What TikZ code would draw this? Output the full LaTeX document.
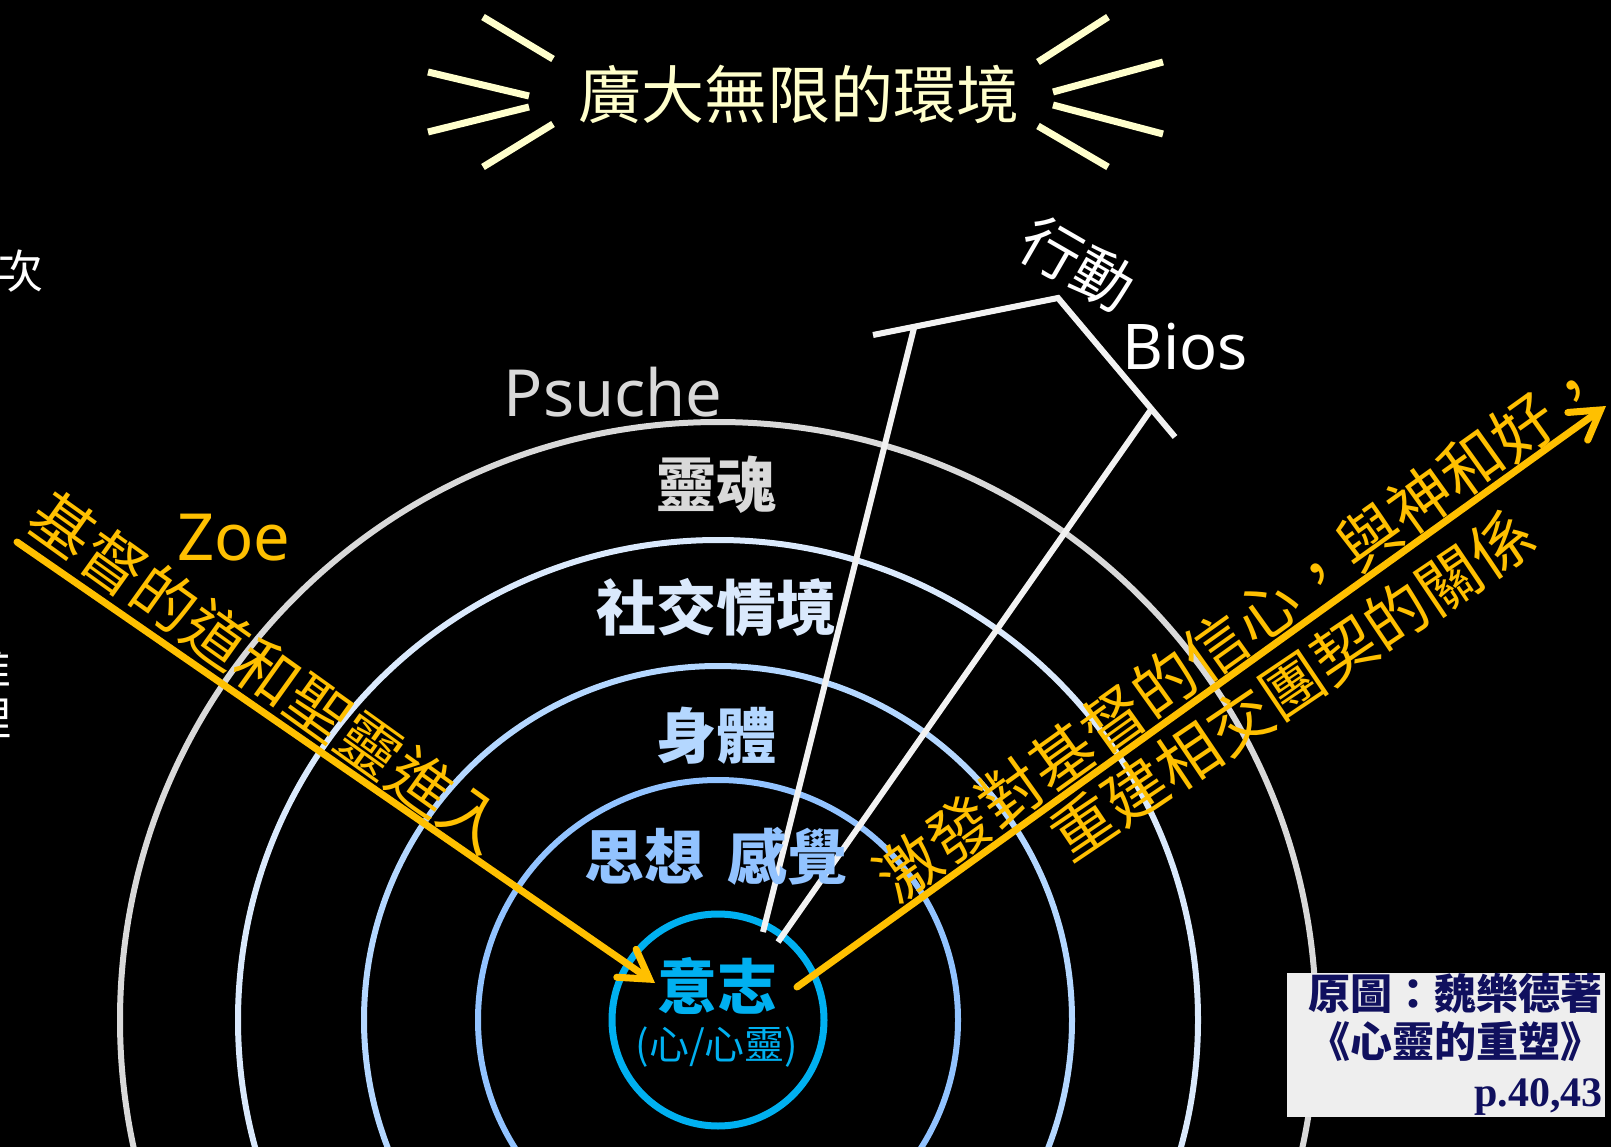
\documentclass[tikz,border=0pt]{standalone}
\usepackage{fontspec}
\setmainfont{Noto Sans}
\newfontfamily\cjk{Noto Sans CJK TC}
\newfontfamily\lat{Noto Sans}
\newfontfamily\serifb{Liberation Serif}
\usetikzlibrary{arrows.meta}
\definecolor{ringA}{HTML}{00B0F0}
\definecolor{ringB}{HTML}{92C3FF}
\definecolor{ringC}{HTML}{B4D7FF}
\definecolor{ringD}{HTML}{DAE9FC}
\definecolor{ringE}{HTML}{D9D9D9}
\definecolor{orng}{HTML}{FFC000}
\definecolor{rayc}{HTML}{FFFFCC}
\definecolor{wln}{HTML}{F2F2F2}
\definecolor{boxfill}{HTML}{EEEEEE}
\definecolor{navy}{HTML}{10105E}
\newcommand\myfs[1]{\fontsize{#1pt}{#1pt}\selectfont}
\begin{document}
\begin{tikzpicture}[x=1pt,y=-1pt,
  ring/.style={draw=#1, line width=6pt},
  wline/.style={draw=wln, line width=6pt},
  rayline/.style={draw=rayc, line width=7pt},
  oarrow/.style={draw=orng, line width=7pt, line cap=round,
    -{Straight Barb[length=28pt,width=34pt,line cap=round]}},
  lbl/.style={inner sep=0pt, font=\cjk\bfseries\myfs{60}},
  otext/.style={inner sep=0pt, text=orng, font=\cjk\myfs{63}}
]
\fill[black] (0,0) rectangle (1611,1147);
\useasboundingbox (0,0) rectangle (1611,1147);

% rings
\coordinate (ctr) at (718,1020);
\draw[ring=ringE] (ctr) circle[radius=598];
\draw[ring=ringD] (ctr) circle[radius=480];
\draw[ring=ringC] (ctr) circle[radius=354];
\draw[ring=ringB] (ctr) circle[radius=240];
\node[circle, draw=ringA, line width=7pt, minimum size=212pt, inner sep=0pt] (will) at (ctr) {};

% title rays
\coordinate (l1a) at (483,17);  \coordinate (l1b) at (553,59);
\coordinate (l2a) at (428,72);  \coordinate (l2b) at (529,96);
\coordinate (l3a) at (428,132); \coordinate (l3b) at (529,107);
\coordinate (l4a) at (483,167); \coordinate (l4b) at (553,124);
\coordinate (r1a) at (1108,17);  \coordinate (r1b) at (1038,62);
\coordinate (r2a) at (1163,62);  \coordinate (r2b) at (1053,92);
\coordinate (r3a) at (1163,134); \coordinate (r3b) at (1053,105);
\coordinate (r4a) at (1108,167); \coordinate (r4b) at (1038,126);
\foreach \p in {l1,l2,l3,l4,r1,r2,r3,r4} \draw[rayline] (\p a) -- (\p b);
\node[inner sep=0pt, text=rayc, font=\cjk\myfs{63}] (title) at (799,94) {廣大無限的環境};

% white action lines
\coordinate (barL) at (873,335);
\coordinate (apex) at (1058,298);
\coordinate (barR) at (1175,437);
\coordinate (cTop) at (914,328);
\coordinate (cBot) at (763,932);
\coordinate (dTop) at (1150,411);
\coordinate (dBot) at (778,942);
\draw[wline] (barL) -- (apex) -- (barR);
\draw[wline] (cTop) -- (cBot);
\draw[wline] (dTop) -- (dBot);
\node[inner sep=0pt, text=white, font=\cjk\myfs{60}, rotate=-30] (act) at (1078,264) {行動};
\node[inner sep=0pt, anchor=base, text=white, font=\lat\myfs{63}] (bios) at (1185,370) {Bios};

% ring labels
\node[inner sep=0pt, anchor=base, text=ringE, font=\lat\myfs{65}] (psuche) at (613,416) {Psuche};
\node[lbl, text=ringE] (soul) at (716,485) {靈魂};
\node[lbl, text=ringD] (social) at (716,608) {社交情境};
\node[lbl, text=ringC] (body) at (716,736) {身體};
\node[lbl, text=ringB] (mind) at (716,856) {思想\hspace{0.4em}感覺};
\node[lbl, text=ringA] (willtxt) at (717,986) {意志};
\node[inner sep=0pt, text=ringA, font=\cjk\myfs{40}] (heart) at (717,1047) {(心/心靈)};

% orange arrows
\coordinate (inTail) at (17,542);
\coordinate (inTip) at (655,983);
\coordinate (outTail) at (797,987);
\coordinate (outTip) at (1606,406);
\draw[oarrow] (inTail) -- (inTip);
\draw[oarrow] (outTail) -- (outTip);
\node[inner sep=0pt, text=orng, anchor=base, font=\lat\myfs{65}] (zoe) at (234,560) {Zoe};
\node[otext, rotate=-35.6] (intext) at (268,672) {基督的道和聖靈進入};
\node[otext, rotate=35.6] (outtext1) at (1241,628) {激發對基督的信心，與神和好，};
\node[otext, rotate=34] (outtext2) at (1292,685) {重建相交團契的關係};

% partial left-edge texts
\node[inner sep=0pt, anchor=east, text=white, font=\cjk\myfs{46}] (lt1) at (44,271) {次};
\node[inner sep=0pt, anchor=east, text=white, font=\cjk\myfs{46}] (lt2) at (12,668) {推};
\node[inner sep=0pt, anchor=east, text=white, font=\cjk\myfs{46}] (lt3) at (12,718) {理};

% source box
\node[fill=boxfill, minimum width=318pt, minimum height=144pt, inner sep=0pt, anchor=north west] (srcbox) at (1287,973) {};
\node[inner sep=0pt, anchor=base east, text=navy, font=\cjk\bfseries\myfs{42}] (src1) at (1603,1009) {原圖：魏樂德著};
\node[inner sep=0pt, anchor=base east, text=navy, font=\cjk\bfseries\myfs{42}] (src2) at (1603,1057) {《心靈的重塑》};
\node[inner sep=0pt, anchor=base east, text=navy, font=\serifb\bfseries\myfs{42}] (src3) at (1603,1106) {p.40,43};
\end{tikzpicture}
\end{document}
